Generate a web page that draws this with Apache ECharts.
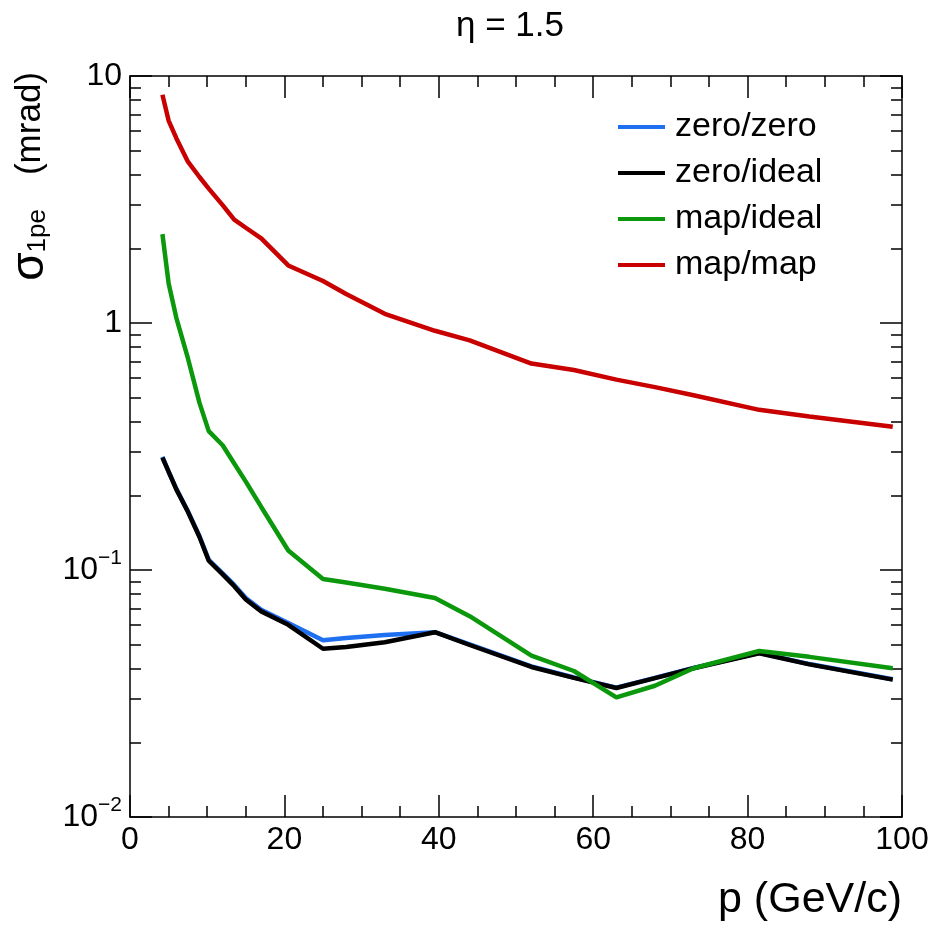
<!DOCTYPE html>
<html>
<head>
<meta charset="utf-8">
<script src="https://cdn.jsdelivr.net/npm/echarts@6/dist/echarts.min.js"></script>
<style>
  html, body { margin: 0; padding: 0; background: #fff; }
  #chart { width: 934px; height: 927px; }
</style>
</head>
<body>
<div id="chart"></div>
<script>
// momentum points (GeV/c)
const P = [4.2, 5, 6, 7.5, 9, 10.2, 12, 13.5, 15, 17, 20.5, 25, 28, 33, 39.5, 44, 52, 57.5, 63, 68, 73, 81.5, 88, 98.8];

// single photo-electron resolution (mrad)
const zeroZero  = [0.287, 0.25, 0.213, 0.173, 0.137, 0.11, 0.097, 0.087, 0.077, 0.069, 0.061, 0.052, 0.053, 0.0545, 0.056, 0.0500, 0.0407, 0.0367, 0.0334, 0.0366, 0.0401, 0.0462, 0.0416, 0.0361];
const zeroIdeal = [0.285, 0.25, 0.212, 0.172, 0.136, 0.109, 0.096, 0.086, 0.076, 0.068, 0.060, 0.048, 0.0488, 0.051, 0.056, 0.0497, 0.0405, 0.0366, 0.0333, 0.0365, 0.0400, 0.0460, 0.0415, 0.0360];
const mapIdeal  = [2.29, 1.45, 1.05, 0.72, 0.475, 0.365, 0.32, 0.27, 0.228, 0.18, 0.12, 0.092, 0.089, 0.084, 0.077, 0.065, 0.045, 0.039, 0.0305, 0.034, 0.040, 0.047, 0.0445, 0.040];
const mapMap    = [8.4, 6.6, 5.6, 4.5, 3.9, 3.5, 3.0, 2.62, 2.43, 2.2, 1.71, 1.48, 1.31, 1.09, 0.93, 0.85, 0.685, 0.645, 0.59, 0.55, 0.51, 0.445, 0.418, 0.38];

const xTicks = [0, 20, 40, 60, 80, 100];
const yDecades = [0.01, 0.1, 1, 10];

const FONT = "'Liberation Sans', Arial, Helvetica, sans-serif";
const pairs = (ys) => P.map((p, i) => [p, ys[i]]);

const chart = echarts.init(document.getElementById("chart"));

const axisLine = { show: true, onZero: false, lineStyle: { color: "#000", width: 1.5 } };
const tickStyle = { color: "#000", width: 1.5 };

const xBase = {
    type: "value",
    min: xTicks[0],
    max: xTicks[xTicks.length - 1],
    interval: xTicks[1] - xTicks[0],
    axisLine,
    axisTick: { show: true, inside: true, length: 22, lineStyle: tickStyle },
    minorTick: { show: true, splitNumber: 4, length: 11, lineStyle: tickStyle },
    splitLine: { show: false },
};

const yBase = {
    type: "log",
    logBase: 10,
    min: yDecades[0],
    max: yDecades[yDecades.length - 1],
    axisLine,
    axisTick: { show: true, inside: true, length: 22, lineStyle: tickStyle },
    minorTick: { show: true, splitNumber: 9, length: 11, lineStyle: tickStyle },
    splitLine: { show: false },
};

const series = [
    { name: "zero/zero", data: zeroZero, color: "#1f70f0" },
    { name: "zero/ideal", data: zeroIdeal, color: "#000000" },
    { name: "map/ideal", data: mapIdeal, color: "#0c980c" },
    { name: "map/map", data: mapMap, color: "#c80000" },
].map((s) => ({
    name: s.name,
    type: "line",
    xAxisIndex: 0,
    yAxisIndex: 0,
    showSymbol: false,
    symbol: "none",
    data: pairs(s.data),
    itemStyle: { color: s.color },
    lineStyle: { color: s.color, width: 4.5 },
}));

chart.setOption({
    animation: false,
    backgroundColor: "#fff",
    textStyle: { fontFamily: FONT },
    grid: { left: 130, right: 32, top: 76, bottom: 110, containLabel: false },
    legend: {
        orient: "vertical",
        left: 613,
        top: 105,
        icon: "rect",
        itemWidth: 47,
        itemHeight: 4,
        itemGap: 12,
        textStyle: { fontFamily: FONT, fontSize: 34, color: "#000", lineHeight: 34, padding: [0, 0, 0, 5] },
        data: ["zero/zero", "zero/ideal", "map/ideal", "map/map"],
    },
    xAxis: [
        {
            ...xBase,
            position: "bottom",
            axisLabel: { show: true, fontSize: 32, color: "#000", margin: 7, fontFamily: FONT },
        },
        {
            ...xBase,
            position: "top",
            axisLabel: { show: false },
        },
    ],
    yAxis: [
        {
            ...yBase,
            position: "left",
            axisLabel: {
                show: true,
                margin: 8,
                color: "#000",
                fontFamily: FONT,
                formatter: (v) => {
                    const e = Math.round(Math.log10(v));
                    if (e === 0) return "{n|1}";
                    if (e === 1) return "{n|10}";
                    return "{n|10}{sup|\u2212" + Math.abs(e) + "}";
                },
                rich: {
                    n: { fontSize: 32, color: "#000", fontFamily: FONT },
                    sup: { fontSize: 21, color: "#000", fontFamily: FONT, padding: [0, 0, 24, 0] },
                },
            },
        },
        {
            ...yBase,
            position: "right",
            axisLabel: { show: false },
        },
    ],
    graphic: [
        {
            type: "text",
            x: 510,
            y: 26,
            style: { text: "\u03b7 = 1.5", fontSize: 35, fontFamily: FONT, fill: "#000", align: "center", verticalAlign: "middle" },
        },
        {
            type: "text",
            x: 902,
            y: 900,
            style: { text: "p (GeV/c)", fontSize: 43, fontFamily: FONT, fill: "#000", align: "right", verticalAlign: "middle" },
        },
        {
            type: "text",
            x: 30,
            y: 72,
            rotation: Math.PI / 2,
            style: {
                text: "{s|\u03c3}{sub|1pe}{n|(mrad)}",
                align: "right",
                verticalAlign: "middle",
                rich: {
                    s: { fontSize: 46, fontFamily: FONT, fill: "#000" },
                    sub: { fontSize: 26, fontFamily: FONT, fill: "#000", padding: [16, 0, 0, 0] },
                    n: { fontSize: 35, fontFamily: FONT, fill: "#000", padding: [0, 0, 0, 34] },
                },
            },
        },
    ],
    series,
});
</script>
</body>
</html>
